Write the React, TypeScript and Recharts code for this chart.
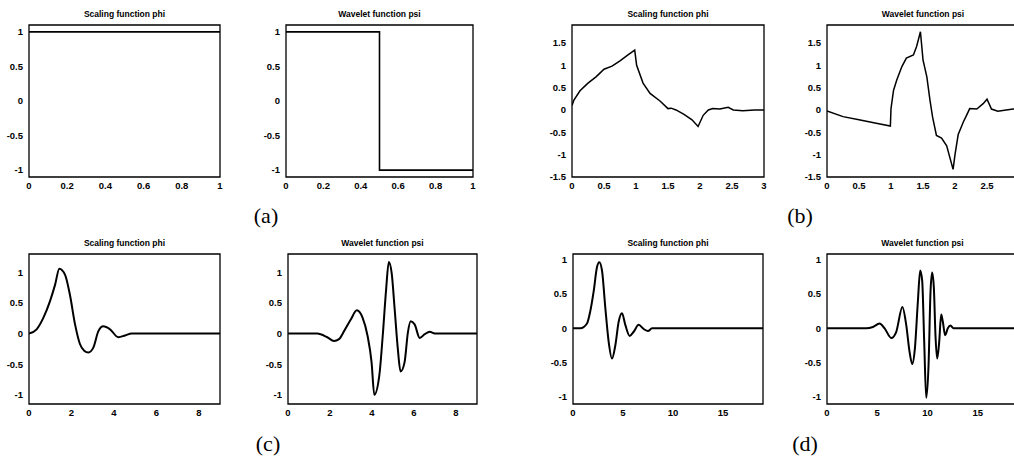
import React from "react";
import { LineChart, Line, XAxis, YAxis, ReferenceArea } from "recharts";

const FONT = '"Liberation Sans", Arial, sans-serif';

// (a) Haar
const haarPhiX = [0, 1];
const haarPhiY = [1, 1];
const haarPsiX = [0, 0.5, 0.5, 1];
const haarPsiY = [1, 1, -1, -1];

// (b) db2
const db2PhiX = [0, 0.03, 0.125, 0.25, 0.375, 0.5, 0.625, 0.75, 0.875, 0.98, 1.01, 1.11, 1.22, 1.375, 1.5, 1.55, 1.625, 1.75, 1.875, 1.97, 2.05, 2.13, 2.2, 2.31, 2.44, 2.52, 2.67, 2.85, 3];
const db2PhiY = [0.1, 0.22, 0.43, 0.6, 0.74, 0.91, 0.98, 1.1, 1.23, 1.34, 1.0, 0.6, 0.37, 0.2, 0.03, 0.04, 0.0, -0.1, -0.22, -0.37, -0.12, 0.0, 0.03, 0.02, 0.06, 0.0, -0.02, 0.0, 0.0];
const db2PsiX = [0, 0.25, 0.5, 0.75, 0.99, 1.0, 1.04, 1.09, 1.17, 1.24, 1.35, 1.4, 1.46, 1.5, 1.56, 1.61, 1.65, 1.71, 1.79, 1.87, 1.97, 2.0, 2.05, 2.13, 2.18, 2.23, 2.34, 2.44, 2.5, 2.57, 2.67, 2.8, 2.91, 3];
const db2PsiY = [-0.02, -0.15, -0.22, -0.29, -0.36, 0.03, 0.44, 0.67, 0.97, 1.16, 1.23, 1.42, 1.75, 1.12, 0.74, 0.21, -0.16, -0.57, -0.63, -0.8, -1.33, -1.0, -0.55, -0.27, -0.12, 0.03, 0.02, 0.14, 0.24, 0.02, -0.03, 0.0, 0.02, 0.02];

// (c)
const cPhiX = [0, 0.36, 0.68, 0.99, 1.23, 1.43, 1.7, 1.93, 2.17, 2.4, 2.6, 2.8, 3.03, 3.27, 3.5, 3.82, 4.21, 4.53, 4.84, 9];
const cPhiY = [0, 0.07, 0.26, 0.53, 0.8, 1.06, 0.96, 0.63, 0.15, -0.17, -0.28, -0.31, -0.23, 0.04, 0.12, 0.07, -0.06, -0.03, 0, 0];
const cPsiX = [0, 1.39, 1.87, 2.19, 2.43, 2.67, 2.99, 3.28, 3.55, 3.79, 3.98, 4.11, 4.35, 4.51, 4.67, 4.8, 4.94, 5.07, 5.23, 5.36, 5.55, 5.71, 5.84, 6.03, 6.27, 6.51, 6.75, 6.99, 9];
const cPsiY = [0, 0, -0.06, -0.12, -0.09, 0.04, 0.23, 0.38, 0.26, -0.04, -0.47, -1.0, -0.68, -0.04, 0.71, 1.17, 0.98, 0.44, -0.25, -0.62, -0.47, 0.02, 0.2, 0.15, -0.07, -0.01, 0.03, 0, 0];

// (d)
const dPhiX = [0, 0.73, 1.4, 1.73, 2.07, 2.4, 2.63, 2.9, 3.23, 3.57, 3.9, 4.23, 4.57, 4.9, 5.23, 5.67, 6.07, 6.57, 7.07, 7.5, 7.9, 19];
const dPhiY = [0, 0, 0.07, 0.25, 0.54, 0.89, 0.96, 0.84, 0.3, -0.2, -0.44, -0.25, 0.1, 0.22, 0.05, -0.11, -0.05, 0.05, -0.01, -0.04, 0, 0];
const dPsiX = [0, 3.9, 4.57, 5.23, 5.73, 6.39, 6.89, 7.5, 7.88, 8.21, 8.48, 8.74, 9.04, 9.27, 9.47, 9.67, 9.87, 10.1, 10.3, 10.46, 10.63, 10.79, 10.96, 11.16, 11.36, 11.52, 11.75, 12.02, 12.28, 12.58, 19];
const dPsiY = [0, 0, 0.02, 0.07, 0, -0.14, -0.05, 0.31, 0.05, -0.34, -0.52, -0.3, 0.39, 0.84, 0.69, -0.2, -1.01, -0.54, 0.54, 0.81, 0.59, -0.1, -0.44, -0.2, 0.2, 0.1, -0.1, 0, 0.04, 0, 0];

// tick sets
const unitTicksY = [-1, -0.5, 0, 0.5, 1];
const wideTicksY = [-1.5, -1, -0.5, 0, 0.5, 1, 1.5];
const haarTicksX = [0, 0.2, 0.4, 0.6, 0.8, 1];
const db2TicksX = [0, 0.5, 1, 1.5, 2, 2.5, 3];
const db2PsiTicksX = [0, 0.5, 1, 1.5, 2, 2.5]; // the "3" falls off the page edge
const cTicksX = [0, 2, 4, 6, 8];
const dTicksX = [0, 5, 10, 15];

const PHI = "Scaling function phi";
const PSI = "Wavelet function psi";

type PanelProps = {
  box: [number, number, number, number];
  title: string;
  xs: number[];
  ys: number[];
  xDomain: [number, number];
  yDomain: [number, number];
  xTicks: number[];
  yTicks: number[];
  smooth?: boolean;
  sw?: number;
};

const YW = 40;
const MT = 4;
const MR = 4;
const XH = 22;

const tickStyle = { fontSize: 9.5, fontWeight: "bold", fill: "#000", fontFamily: FONT };

function Panel({ box, title, xs, ys, xDomain, yDomain, xTicks, yTicks, smooth, sw = 1.6 }: PanelProps) {
  const [l, t, r, b] = box;
  const data = xs.map((x, i) => ({ x, y: ys[i] }));
  return (
    <>
      <div
        style={{
          position: "absolute",
          left: l,
          width: r - l,
          top: t - 17,
          textAlign: "center",
          font: `bold 8.5px ${FONT}`,
          lineHeight: "12px",
          color: "#000",
        }}
      >
        {title}
      </div>
      <div style={{ position: "absolute", left: l - YW, top: t - MT }}>
        <LineChart
          width={YW + (r - l) + MR}
          height={MT + (b - t) + XH}
          data={data}
          margin={{ top: MT, right: MR, bottom: 0, left: 0 }}
        >
          <XAxis
            dataKey="x"
            type="number"
            domain={xDomain}
            ticks={xTicks}
            interval={0}
            allowDataOverflow
            axisLine={false}
            tickLine={false}
            tickSize={0}
            tickMargin={5}
            height={XH}
            tick={tickStyle}
          />
          <YAxis
            type="number"
            domain={yDomain}
            ticks={yTicks}
            interval={0}
            allowDataOverflow
            axisLine={false}
            tickLine={false}
            tickSize={0}
            tickMargin={6}
            width={YW}
            tick={tickStyle}
          />
          <ReferenceArea
            x1={xDomain[0]}
            x2={xDomain[1]}
            y1={yDomain[0]}
            y2={yDomain[1]}
            fill="none"
            stroke="#000"
            strokeWidth={1.3}
            ifOverflow="visible"
          />
          <Line
            type={smooth ? "monotone" : "linear"}
            dataKey="y"
            stroke="#000"
            strokeWidth={sw}
            dot={false}
            isAnimationActive={false}
          />
        </LineChart>
      </div>
    </>
  );
}

function Tag({ x, y, text }: { x: number; y: number; text: string }) {
  return (
    <div
      style={{
        position: "absolute",
        left: x,
        top: y,
        transform: "translate(-50%, -50%)",
        font: `22px "Liberation Serif", "Times New Roman", serif`,
        lineHeight: 1,
        color: "#000",
      }}
    >
      {text}
    </div>
  );
}

export default function App() {
  return (
    <div
      style={{
        position: "absolute",
        left: 0,
        top: 0,
        width: 1014,
        height: 456,
        overflow: "hidden",
        background: "#fff",
      }}
    >
      <Panel box={[29, 25, 220, 177]} title={PHI} xs={haarPhiX} ys={haarPhiY} xDomain={[0, 1]} yDomain={[-1.1, 1.1]} xTicks={haarTicksX} yTicks={unitTicksY} />
      <Panel box={[286, 25, 473, 177]} title={PSI} xs={haarPsiX} ys={haarPsiY} xDomain={[0, 1]} yDomain={[-1.1, 1.1]} xTicks={haarTicksX} yTicks={unitTicksY} />
      <Panel box={[572, 25, 764, 177]} title={PHI} xs={db2PhiX} ys={db2PhiY} xDomain={[0, 3]} yDomain={[-1.5, 1.9]} xTicks={db2TicksX} yTicks={wideTicksY} sw={1.5} />
      <Panel box={[827, 25, 1019, 177]} title={PSI} xs={db2PsiX} ys={db2PsiY} xDomain={[0, 3]} yDomain={[-1.5, 1.9]} xTicks={db2PsiTicksX} yTicks={wideTicksY} sw={1.5} />

      <Panel box={[29, 254, 220, 404]} title={PHI} xs={cPhiX} ys={cPhiY} xDomain={[0, 9]} yDomain={[-1.15, 1.3]} xTicks={cTicksX} yTicks={unitTicksY} smooth sw={2} />
      <Panel box={[288, 254, 477, 404]} title={PSI} xs={cPsiX} ys={cPsiY} xDomain={[0, 9]} yDomain={[-1.15, 1.3]} xTicks={cTicksX} yTicks={unitTicksY} smooth sw={2} />
      <Panel box={[573, 254, 763, 404]} title={PHI} xs={dPhiX} ys={dPhiY} xDomain={[0, 19]} yDomain={[-1.1, 1.08]} xTicks={dTicksX} yTicks={unitTicksY} smooth sw={2} />
      <Panel box={[827, 254, 1018, 404]} title={PSI} xs={dPsiX} ys={dPsiY} xDomain={[0, 19]} yDomain={[-1.1, 1.08]} xTicks={dTicksX} yTicks={unitTicksY} smooth sw={2} />

      <Tag x={266} y={216} text="(a)" />
      <Tag x={800} y={216} text="(b)" />
      <Tag x={268} y={444} text="(c)" />
      <Tag x={805} y={444} text="(d)" />
    </div>
  );
}
